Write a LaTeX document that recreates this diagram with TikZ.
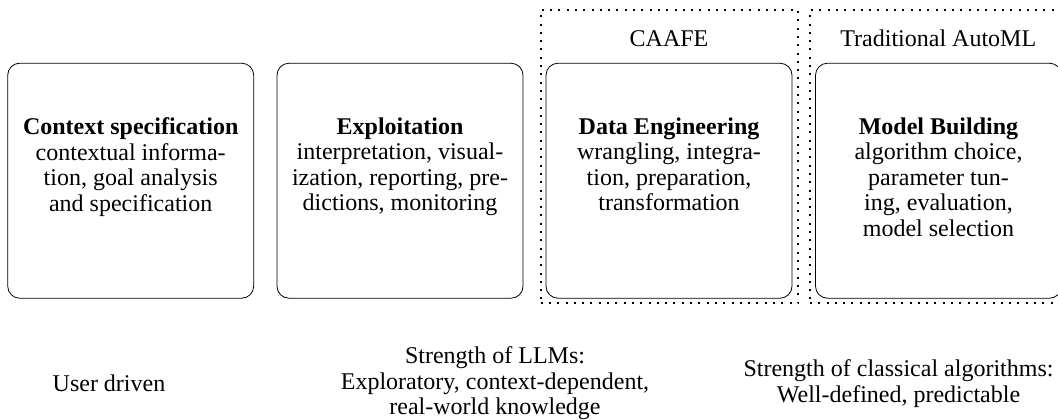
\documentclass[tikz,border=0pt]{standalone}
\usepackage{fontspec}
\setmainfont{Liberation Serif}
\usetikzlibrary{positioning}

\begin{document}
\begin{tikzpicture}[x=0.5pt,y=-0.5pt,
    font=\fontsize{12}{12.75}\selectfont,
    phase/.style={draw,rounded corners=6pt,minimum width=123pt,minimum height=117.5pt},
    desc/.style={align=center,inner sep=0pt},
    group/.style={draw,line width=1pt,dash pattern=on 1pt off 3.15pt,minimum width=128.7pt,minimum height=146.7pt}]
    \useasboundingbox (0,0) rectangle (1058,419);
    \node[group] (g1) at (669.3,156.7) {};
    \node[group] (g2) at (938.6,156.7) {};
    \node[desc] (caafe) at (669,38.5) {CAAFE};
    \node[desc] (automl) at (938.3,38.5) {Traditional AutoML};
    \node[phase] (p1) at (130.7,180.7) {};
    \node[phase] (p2) at (400,180.7) {};
    \node[phase] (p3) at (669,180.7) {};
    \node[phase] (p4) at (938.5,180.7) {};
    \node[desc,below=27.3pt of p1.north] (t1) {\textbf{Context specification}\\contextual informa-\\tion, goal analysis\\and specification};
    \node[desc,below=27.3pt of p2.north] (t2) {\textbf{Exploitation}\\interpretation, visual-\\ization, reporting, pre-\\dictions, monitoring};
    \node[desc,below=27.3pt of p3.north] (t3) {\textbf{Data Engineering}\\wrangling, integra-\\tion, preparation,\\transformation};
    \node[desc,below=27.3pt of p4.north] (t4) {\textbf{Model Building}\\algorithm choice,\\parameter tun-\\ing, evaluation,\\model selection};
    \node[desc] (user) at (109,383.5) {User driven};
    \node[desc] (llm) at (495,383.5) {Strength of LLMs:\\Exploratory, context-dependent,\\real-world knowledge};
    \node[desc] (classic) at (898.5,383.5) {Strength of classical algorithms:\\Well-defined, predictable};
\end{tikzpicture}
\end{document}
